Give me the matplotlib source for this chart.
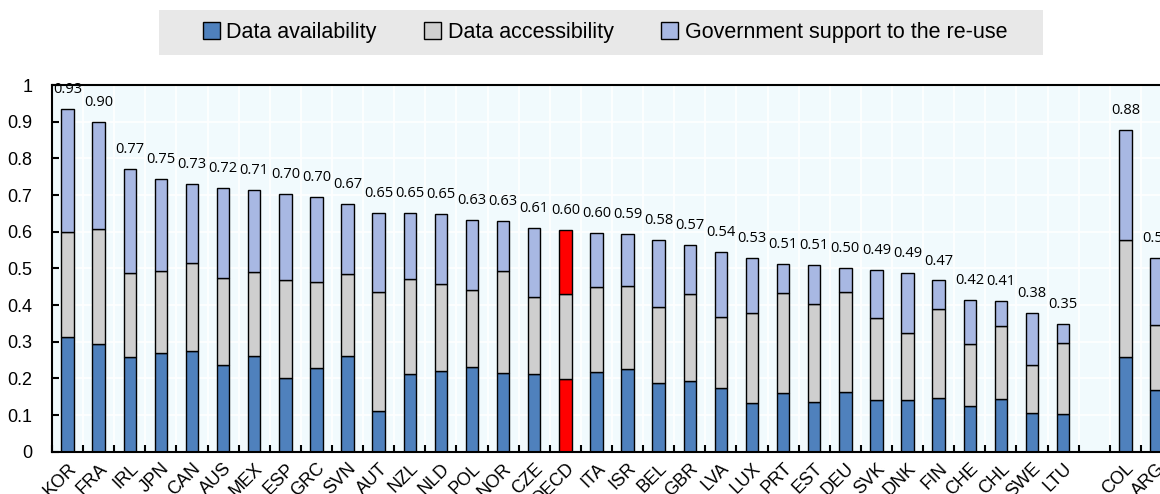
import numpy as np
import matplotlib.pyplot as plt
from matplotlib.patches import Patch, Rectangle

countries = ["KOR", "FRA", "IRL", "JPN", "CAN", "AUS", "MEX", "ESP", "GRC", "SVN",
             "AUT", "NZL", "NLD", "POL", "NOR", "CZE", "OECD", "ITA", "ISR", "BEL",
             "GBR", "LVA", "LUX", "PRT", "EST", "DEU", "SVK", "DNK", "FIN", "CHE",
             "CHL", "SWE", "LTU", "", "COL", "ARG"]
availability = [0.314, 0.294, 0.257, 0.269, 0.274, 0.236, 0.262, 0.202, 0.229, 0.261,
                0.112, 0.212, 0.220, 0.232, 0.214, 0.211, 0.197, 0.217, 0.225, 0.186,
                0.192, 0.174, 0.132, 0.159, 0.135, 0.164, 0.141, 0.142, 0.146, 0.125,
                0.145, 0.105, 0.102, 0.0, 0.259, 0.168]
accessibility = [0.286, 0.313, 0.230, 0.223, 0.241, 0.237, 0.228, 0.266, 0.234, 0.224,
                 0.324, 0.258, 0.238, 0.209, 0.280, 0.211, 0.233, 0.232, 0.228, 0.209,
                 0.238, 0.192, 0.245, 0.275, 0.268, 0.271, 0.224, 0.183, 0.242, 0.170,
                 0.198, 0.131, 0.194, 0.0, 0.318, 0.177]
support = [0.335, 0.293, 0.285, 0.253, 0.215, 0.246, 0.224, 0.234, 0.232, 0.190,
           0.216, 0.180, 0.190, 0.191, 0.136, 0.189, 0.174, 0.147, 0.140, 0.183,
           0.135, 0.179, 0.151, 0.079, 0.105, 0.067, 0.130, 0.162, 0.079, 0.120,
           0.069, 0.142, 0.052, 0.0, 0.300, 0.183]
totals = ["0.93", "0.90", "0.77", "0.75", "0.73", "0.72", "0.71", "0.70", "0.70", "0.67",
          "0.65", "0.65", "0.65", "0.63", "0.63", "0.61", "0.60", "0.60", "0.59", "0.58",
          "0.57", "0.54", "0.53", "0.51", "0.51", "0.50", "0.49", "0.49", "0.47", "0.42",
          "0.41", "0.38", "0.35", "", "0.88", "0.53"]

blue = "#4F81BD"
grey = "#CFCFCF"
light = "#A8B8E3"

narrow = ["Liberation Sans Narrow", "Liberation Sans", "DejaVu Sans"]

fig = plt.figure(figsize=(11.6, 4.94), dpi=100)
ax = fig.add_axes([52 / 1160, 42.3 / 494, 1120 / 1160, 366.7 / 494])
ax.set_facecolor("#F1FAFD")

x = np.arange(len(countries))
a = np.array(availability)
b = np.array(accessibility)
c = np.array(support)
oecd = countries.index("OECD")
c1 = [blue] * len(x)
c3 = [light] * len(x)
c1[oecd] = "red"
c3[oecd] = "red"
mask = np.array([n != "" for n in countries])

w = 0.4
kw = dict(width=w, edgecolor="black", linewidth=1.0, zorder=3)
ax.bar(x[mask], a[mask], color=np.array(c1)[mask], **kw)
ax.bar(x[mask], b[mask], bottom=a[mask], color=grey, **kw)
ax.bar(x[mask], c[mask], bottom=(a + b)[mask], color=np.array(c3)[mask], **kw)

for i in x[mask]:
    ax.annotate(totals[i], (i, a[i] + b[i] + c[i]), xytext=(0, 14), textcoords="offset points",
                ha="center", va="center", fontsize=10.5, family=["Open Sans", "DejaVu Sans"],
                annotation_clip=False)

ax.set_xlim(-0.5, len(x) - 0.5)
ax.set_ylim(0, 1)
ax.set_yticks(np.arange(0, 1.01, 0.1))
ax.set_yticklabels(["0", "0.1", "0.2", "0.3", "0.4", "0.5", "0.6", "0.7", "0.8", "0.9", "1"],
                   family=narrow, fontsize=13)
ax.set_xticks(x)
ax.set_xticklabels(countries, rotation=45, ha="right", rotation_mode="anchor",
                   family=narrow, fontsize=13)
ax.set_xticks(np.arange(-0.5, len(x)), minor=True)
ax.tick_params(axis="x", which="major", length=0, pad=6)
ax.tick_params(axis="x", which="minor", direction="in", length=5, width=1.5)
ax.tick_params(axis="y", direction="in", length=5, width=1.5, pad=14)
ax.grid(True, which="major", axis="y", color="white", linewidth=1.2, zorder=0)
ax.grid(True, which="minor", axis="x", color="white", linewidth=1.2, zorder=0)
for s in ax.spines.values():
    s.set_linewidth(1.5)
    s.set_zorder(4)

# grey legend band
fig.patches.append(Rectangle((159 / 1160, 1 - 55 / 494), 884 / 1160, 45 / 494,
                             transform=fig.transFigure, facecolor="#E8E8E8",
                             edgecolor="none", zorder=0))
handles = [Patch(facecolor=blue, edgecolor="black"),
           Patch(facecolor=grey, edgecolor="black"),
           Patch(facecolor=light, edgecolor="black")]
fig.legend(handles, ["Data availability", "Data accessibility",
                     "Government support to the re-use"],
           loc="center", bbox_to_anchor=(605 / 1160, 1 - 32.5 / 494), ncol=3,
           frameon=False, prop={"family": narrow, "size": 15.5},
           handlelength=0.8, handleheight=0.8, handletextpad=0.3, columnspacing=2.2)

fig.savefig("out.png", dpi=100)
